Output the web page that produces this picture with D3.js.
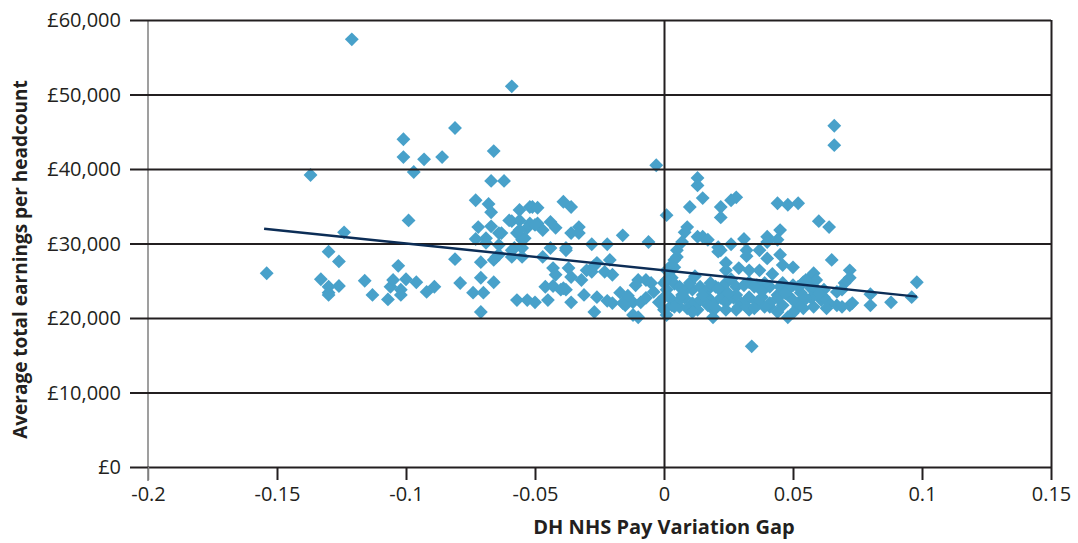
<!DOCTYPE html>
<html>
<head>
<meta charset="utf-8">
<script src="https://cdn.jsdelivr.net/npm/d3@7"></script>
<style>
  html, body { margin: 0; padding: 0; background: #ffffff; }
  svg { display: block; }
  .tick-label { font-family: "Open Sans", "Noto Sans", sans-serif; font-size: 20px; fill: #231f20; }
  .axis-title { font-family: "Open Sans", "Noto Sans", sans-serif; font-weight: 700; fill: #231f20; }
</style>
</head>
<body>
<svg id="chart" width="1078" height="543"></svg>
<script>
// Pay variation gap (x) against average total earnings per headcount (y), one point per trust
const trusts = [
  [-0.154, 26000], [-0.137, 39200], [-0.121, 57400], [-0.059, 51100],
  [-0.133, 25200], [-0.130, 28900], [-0.130, 24200], [-0.130, 23400],
  [-0.126, 24300], [-0.130, 23100], [-0.126, 27600], [-0.124, 31500],
  [-0.116, 25000], [-0.113, 23100], [-0.107, 22500], [-0.106, 24200],
  [-0.105, 25100], [-0.103, 27000], [-0.102, 23800], [-0.102, 23100],
  [-0.100, 25200], [-0.096, 24800], [-0.101, 41600], [-0.093, 41300],
  [-0.086, 41600], [-0.097, 39600], [-0.099, 33100], [-0.092, 23500],
  [-0.089, 24200], [-0.081, 45500], [-0.101, 44000], [-0.081, 27900],
  [-0.079, 24700], [-0.074, 23400], [-0.070, 23400], [-0.071, 20800],
  [-0.071, 25400], [-0.066, 24800], [-0.071, 27500], [-0.073, 30600],
  [-0.069, 30700], [-0.069, 30100], [-0.064, 29800], [-0.072, 32200],
  [-0.067, 32300], [-0.063, 31400], [-0.057, 31400], [-0.053, 32100],
  [-0.058, 29400], [-0.055, 29400], [-0.065, 28200], [-0.059, 28200],
  [-0.055, 28200], [-0.057, 22400], [-0.053, 22400], [-0.073, 35800],
  [-0.068, 35300], [-0.067, 34200], [-0.059, 33000], [-0.056, 33100],
  [-0.056, 34500], [-0.052, 34900], [-0.066, 42400], [-0.067, 38400],
  [-0.062, 38400], [-0.055, 30500], [-0.051, 34900], [-0.049, 34800],
  [-0.039, 35600], [-0.060, 33100], [-0.052, 32700], [-0.049, 32700],
  [-0.044, 32900], [-0.042, 32100], [-0.047, 31800], [-0.064, 31400],
  [-0.054, 30700], [-0.059, 29100], [-0.066, 27800], [-0.064, 28500],
  [-0.047, 28200], [-0.044, 29400], [-0.038, 29400], [-0.043, 26700],
  [-0.042, 25800], [-0.050, 22100], [-0.045, 22400], [-0.046, 24200],
  [-0.043, 24300], [-0.039, 24000], [-0.003, 40500], [0.001, 33800],
  [-0.036, 34900], [-0.050, 32500], [-0.033, 32200], [-0.036, 31400],
  [-0.033, 31400], [-0.016, 31100], [-0.056, 31800], [-0.038, 29100],
  [-0.028, 29900], [-0.022, 29900], [-0.006, 30200], [-0.037, 26700],
  [-0.036, 25500], [-0.032, 25100], [-0.028, 26200], [-0.026, 27400],
  [-0.021, 27800], [-0.023, 26200], [-0.020, 25800], [-0.038, 23800],
  [-0.036, 22100], [-0.031, 23100], [-0.026, 22800], [-0.027, 20800],
  [-0.020, 22000], [-0.017, 23400], [-0.016, 22000], [-0.010, 25100],
  [-0.011, 24400], [-0.007, 25100], [-0.005, 24700], [-0.012, 22100],
  [-0.009, 22100], [-0.007, 22700], [-0.002, 22100], [-0.012, 20400],
  [-0.010, 20100], [0.001, 20400], [0.003, 21700], [0.000, 24700],
  [0.003, 25400], [0.004, 26800], [0.005, 28200], [0.005, 29100],
  [-0.030, 26400], [-0.027, 27000], [-0.040, 23800], [-0.015, 21700],
  [0.001, 23800], [-0.004, 23500], [-0.014, 23000], [-0.022, 22300],
  [0.013, 38800], [0.013, 37800], [0.015, 36100], [0.010, 34900],
  [0.022, 34900], [0.022, 33500], [0.026, 35800], [0.028, 36200],
  [0.044, 35400], [0.048, 35200], [0.052, 35400], [0.060, 33000],
  [0.064, 32200], [0.066, 45800], [0.066, 43200], [0.009, 32200],
  [0.008, 31500], [0.007, 30200], [0.013, 30900], [0.015, 30900],
  [0.017, 30500], [0.021, 29500], [0.022, 29100], [0.026, 29900],
  [0.031, 30600], [0.032, 29100], [0.032, 28300], [0.040, 30900],
  [0.040, 30200], [0.045, 31800], [0.044, 30500], [0.037, 29100],
  [0.040, 28000], [0.045, 28500], [0.004, 27800], [0.003, 27100],
  [0.024, 27400], [0.024, 26400], [0.029, 26700], [0.033, 26400],
  [0.037, 26400], [0.046, 27100], [0.050, 26800], [0.065, 27800],
  [0.072, 26400], [0.072, 25400], [0.070, 24700], [0.080, 23200],
  [0.080, 21700], [0.088, 22100], [0.096, 22800], [0.098, 24800],
  [0.069, 23800], [0.072, 21700], [0.067, 21700], [0.064, 22000],
  [0.061, 22400], [0.058, 21500], [0.057, 25500], [0.054, 24800],
  [0.058, 24200], [0.062, 22800], [0.053, 23400], [0.052, 21500],
  [0.050, 20700], [0.034, 16200], [0.048, 20100], [0.019, 20100],
  [0.058, 26000], [0.059, 25100], [0.055, 25100], [0.036, 24400],
  [0.041, 24200], [0.046, 24700], [0.050, 24400], [0.057, 24000],
  [0.062, 23800], [0.067, 23500], [0.033, 22800], [0.038, 22800],
  [0.044, 23100], [0.048, 23100], [0.057, 22700], [0.073, 22000],
  [0.036, 21700], [0.041, 21500], [0.046, 21700], [0.052, 22000],
  [0.054, 21300], [0.063, 21300], [0.069, 21500],
  [0.001, 25100], [0.004, 24600], [0.006, 24200], [0.009, 24000],
  [0.011, 23800], [0.014, 24200], [0.017, 23800], [0.020, 24200],
  [0.022, 23800], [0.024, 24700], [0.028, 24200], [0.031, 24400],
  [0.033, 24800], [0.039, 24700], [0.045, 24200], [0.048, 23800],
  [0.052, 24200], [0.002, 22800], [0.005, 22100], [0.008, 22700],
  [0.011, 22000], [0.014, 22400], [0.017, 22800], [0.019, 22000],
  [0.022, 22700], [0.024, 22100], [0.027, 22700], [0.030, 22000],
  [0.033, 22700], [0.036, 22100], [0.041, 22000], [0.044, 22700],
  [0.050, 22400], [0.006, 21500], [0.013, 21100], [0.018, 21500],
  [0.024, 21100], [0.029, 21500], [0.033, 21100], [0.039, 21500],
  [0.044, 20800], [0.000, 21100], [0.010, 24700], [0.018, 24700],
  [0.021, 24000], [0.035, 24200], [0.000, 22800], [0.007, 23100],
  [0.015, 23100], [0.028, 23100], [0.004, 21500], [0.009, 21300],
  [0.017, 21700], [0.020, 21300], [0.028, 21100], [0.032, 21500],
  [0.035, 21300], [0.011, 20800], [0.021, 28900], [0.001, 26400],
  [0.012, 25600], [0.026, 25200], [0.042, 25900], [0.047, 23300],
  [0.055, 22600], [0.060, 23300], [0.025, 23300], [0.038, 23600]
];

// Linear trend line end points
const trendGap = [-0.155, 0.098];
const trendEarnings = [31980, 22870];

// Axis ticks
const xTicks = [-0.2, -0.15, -0.1, -0.05, 0, 0.05, 0.1, 0.15];
const xTickLabels = ["-0.2", "-0.15", "-0.1", "-0.05", "0", "0.05", "0.1", "0.15"];
const yTicks = [0, 10000, 20000, 30000, 40000, 50000, 60000];
const yTickLabels = ["£0", "£10,000", "£20,000", "£30,000", "£40,000", "£50,000", "£60,000"];

const svg = d3.select("#chart");
const plot = { left: 148, right: 1051, top: 20, bottom: 467 };

const x = d3.scaleLinear().domain([-0.2, 0.15]).range([plot.left, plot.right]);
const y = d3.scaleLinear().domain([0, 60000]).range([plot.bottom, plot.top]);

const gridColor = "#231f20";

// Scatter markers (diamonds)
const diamond = d3.symbol().type(d3.symbolSquare).size(96);
svg.append("g")
  .selectAll("path")
  .data(trusts)
  .join("path")
  .attr("d", diamond)
  .attr("transform", d => `translate(${x(d[0])},${y(d[1])}) rotate(45)`)
  .attr("fill", "#48a1ca");

// Left axis line (grey)
svg.append("line")
  .attr("x1", plot.left).attr("x2", plot.left)
  .attr("y1", plot.top).attr("y2", plot.bottom + 14)
  .attr("stroke", "#7f7f7f").attr("stroke-width", 1.5);

// Horizontal gridlines with outer tick stubs
const yAxis = d3.axisLeft(y)
  .tickValues(yTicks)
  .tickSize(-(plot.right - plot.left))
  .tickSizeOuter(0)
  .tickFormat((d, i) => yTickLabels[i]);
const gy = svg.append("g").attr("transform", `translate(${plot.left},0)`).call(yAxis);
gy.select(".domain").remove();
gy.selectAll(".tick line")
  .attr("x1", -18)
  .attr("stroke", gridColor).attr("stroke-width", 2);
gy.selectAll(".tick text")
  .attr("class", "tick-label")
  .attr("x", -27)
  .attr("dy", "0.34em");

// Bottom ticks, including the zero line and right frame extended upward
const xAxis = d3.axisBottom(x)
  .tickValues(xTicks)
  .tickSize(13)
  .tickSizeOuter(0)
  .tickFormat((d, i) => xTickLabels[i]);
const gx = svg.append("g").attr("transform", `translate(0,${plot.bottom})`).call(xAxis);
gx.select(".domain").remove();
gx.selectAll(".tick line")
  .attr("stroke", gridColor).attr("stroke-width", 2)
  .attr("y1", d => (d === 0 || d === 0.15) ? -(plot.bottom - plot.top) : 0);
gx.selectAll(".tick").filter(d => d === -0.2).select("line")
  .attr("stroke", "#7f7f7f").attr("stroke-width", 1.5);
gx.selectAll(".tick text")
  .attr("class", "tick-label")
  .attr("y", 20)
  .attr("dy", "0.71em");
gx.attr("font-family", null).attr("font-size", null);
gy.attr("font-family", null).attr("font-size", null);

// Trend line
svg.append("path")
  .datum(trendGap.map((g, i) => [g, trendEarnings[i]]))
  .attr("d", d3.line().x(d => x(d[0])).y(d => y(d[1])))
  .attr("fill", "none")
  .attr("stroke", "#0c2d56")
  .attr("stroke-width", 2.5);

// Axis titles
svg.append("text")
  .attr("class", "axis-title")
  .attr("font-size", 20)
  .attr("x", x(0))
  .attr("y", 534)
  .attr("text-anchor", "middle")
  .text("DH NHS Pay Variation Gap");

svg.append("text")
  .attr("class", "axis-title")
  .attr("font-size", 19)
  .attr("transform", `translate(27,${(plot.top + plot.bottom) / 2 + 16}) rotate(-90)`)
  .attr("text-anchor", "middle")
  .text("Average total earnings per headcount");
</script>
</body>
</html>
